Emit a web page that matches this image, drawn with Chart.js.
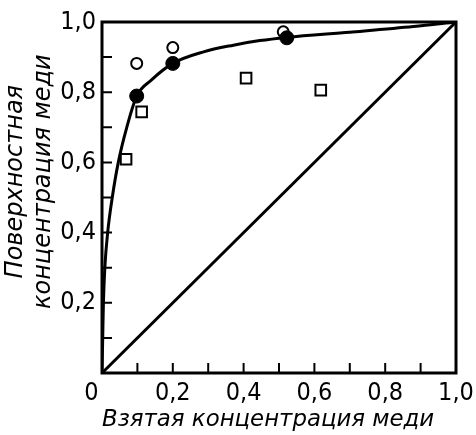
<!DOCTYPE html>
<html>
<head>
<meta charset="utf-8">
<script src="https://cdn.jsdelivr.net/npm/chart.js"></script>
<style>
    body { margin: 0; background: #fff; }
    #wrap { width: 476px; height: 435px; }
</style>
</head>
<body>
<div id="wrap"><canvas id="chart" width="476" height="435"></canvas></div>
<script>
// smooth curve, points
const curveX = [0, 0.002, 0.004, 0.008, 0.016, 0.029, 0.046, 0.07, 0.098, 0.14, 0.2, 0.287, 0.371, 0.446, 0.522, 0.7, 0.88, 1];
const curveY = [0, 0.1, 0.2, 0.3, 0.4, 0.5, 0.6, 0.7, 0.789, 0.835, 0.882, 0.915, 0.934, 0.947, 0.956, 0.971, 0.987, 1];
// straight diagonal
const diagX = [0, 1];
const diagY = [0, 1];
// filled circles
const filledX = [0.098, 0.2, 0.522];
const filledY = [0.789, 0.882, 0.955];
// open circles
const openX = [0.098, 0.2, 0.512];
const openY = [0.882, 0.927, 0.972];
// open squares
const squareX = [0.068, 0.112, 0.407, 0.618];
const squareY = [0.609, 0.744, 0.840, 0.806];
// labelled ticks (marks every 0.1)
const xLabelTicks = [0, 0.2, 0.4, 0.6, 0.8, 1.0];
const yLabelTicks = [0.2, 0.4, 0.6, 0.8, 1.0];

// spaces only nudge the centred titles off the plot centre
const xTitle = "Взятая концентрация меди   ";
const yTitle = ["\u2003 Поверхностная", "\u2003 концентрация меди"];

function pts(xs, ys) {
    return xs.map((x, i) => ({ x: x, y: ys[i] }));
}

function fmt(v, list) {
    const r = Math.round(v * 10) / 10;
    if (!list.some(t => Math.abs(t - r) < 1e-6)) return "";
    if (r === 0) return "0   ";
    return r.toFixed(1).replace(".", ",");
}

// frame round the plot and short inward ticks
const framePlugin = {
    id: "frame",
    afterDraw(chart) {
        const ctx = chart.ctx;
        const a = chart.chartArea;
        ctx.save();
        ctx.strokeStyle = "#000";
        ctx.lineWidth = 3;
        ctx.strokeRect(a.left, a.top, a.right - a.left, a.bottom - a.top);
        ctx.lineWidth = 2;
        ctx.beginPath();
        chart.scales.x.ticks.forEach(t => {
            const px = chart.scales.x.getPixelForValue(t.value);
            ctx.moveTo(px, a.bottom);
            ctx.lineTo(px, a.bottom - 10);
        });
        chart.scales.y.ticks.forEach(t => {
            const py = chart.scales.y.getPixelForValue(t.value);
            ctx.moveTo(a.left, py);
            ctx.lineTo(a.left + 10, py);
        });
        ctx.stroke();
        ctx.restore();
    }
};

const tickFont = { family: "DejaVu Sans Condensed", size: 25 };

new Chart(document.getElementById("chart"), {
    type: "scatter",
    data: {
        datasets: [
            {
                data: pts(filledX, filledY),
                pointRadius: 7,
                pointBackgroundColor: "#000",
                pointBorderColor: "#000",
                pointBorderWidth: 1
            },
            {
                data: pts(openX, openY),
                pointRadius: 5.5,
                pointBackgroundColor: "#fff",
                pointBorderColor: "#000",
                pointBorderWidth: 2
            },
            {
                data: pts(squareX, squareY),
                pointStyle: "rect",
                pointRadius: 7.5,
                pointBackgroundColor: "#fff",
                pointBorderColor: "#000",
                pointBorderWidth: 2
            },
            {
                data: pts(curveX, curveY),
                showLine: true,
                borderColor: "#000",
                borderWidth: 3,
                pointRadius: 0,
                cubicInterpolationMode: "monotone"
            },
            {
                data: pts(diagX, diagY),
                showLine: true,
                borderColor: "#000",
                borderWidth: 3,
                pointRadius: 0
            }
        ]
    },
    options: {
        responsive: false,
        animation: false,
        layout: { padding: { top: 22, right: 20, left: 0, bottom: 0 } },
        plugins: {
            legend: { display: false },
            tooltip: { enabled: false }
        },
        scales: {
            x: {
                type: "linear",
                min: 0,
                max: 1,
                afterFit: s => { s.height = 62; },
                grid: { display: false },
                border: { display: false },
                ticks: {
                    stepSize: 0.1,
                    autoSkip: false,
                    maxRotation: 0,
                    color: "#000",
                    font: tickFont,
                    padding: -3,
                    callback: v => fmt(v, xLabelTicks)
                },
                title: {
                    display: true,
                    text: xTitle,
                    color: "#000",
                    font: { family: "DejaVu Sans", size: 23.5, style: "italic", lineHeight: 1.25 },
                    padding: { top: 0, bottom: 0 }
                }
            },
            y: {
                type: "linear",
                min: 0,
                max: 1,
                afterFit: s => { s.width = 102; },
                grid: { display: false },
                border: { display: false },
                ticks: {
                    stepSize: 0.1,
                    autoSkip: false,
                    color: "#000",
                    font: tickFont,
                    padding: -2,
                    callback: v => fmt(v, yLabelTicks)
                },
                title: {
                    display: true,
                    text: yTitle,
                    color: "#000",
                    font: { family: "DejaVu Sans", size: 24, style: "italic", lineHeight: 1.17 },
                    padding: { top: 2, bottom: 0 }
                }
            }
        }
    },
    plugins: [framePlugin]
});
</script>
</body>
</html>
